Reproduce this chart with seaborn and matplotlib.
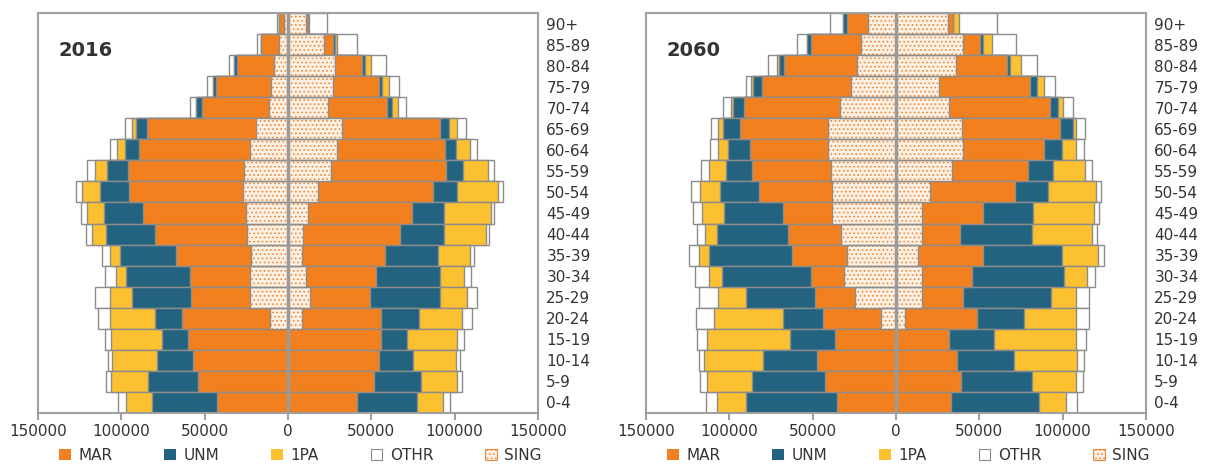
import numpy as np
import pandas as pd
import matplotlib
matplotlib.use("Agg")
import matplotlib.pyplot as plt
import seaborn as sns
from matplotlib.patches import Patch

AGES = ['90+', '85-89', '80-84', '75-79', '70-74', '65-69', '60-64', '55-59',
        '50-54', '45-49', '40-44', '35-39', '30-34', '25-29', '20-24', '15-19',
        '10-14', '5-9', '0-4']
SERIES = ['MAR', 'UNM', '1PA', 'OTHR', 'SING']
XTICKS = [-150000, -100000, -50000, 0, 50000, 100000, 150000]
XTICK_LABELS = ['150000', '100000', '50000', '0', '50000', '100000', '150000']

# ---- 2016, left side (men) ----
M16_SING = [2400, 5400, 8400, 10000, 11400, 19400, 22800, 26400, 26800, 25400, 24400, 22400, 22800, 22800, 10800, 0, 0, 0, 0]
M16_MAR = [3000, 11000, 22400, 33400, 40400, 65400, 66600, 69400, 68600, 61400, 55600, 45000, 36000, 35600, 52600, 60000, 56800, 54000, 42400]
M16_UNM = [0, 0, 1600, 1600, 3600, 6600, 8600, 12600, 17400, 23600, 29400, 33400, 38600, 35400, 16600, 15400, 22000, 29800, 39400]
M16_1PA = [0, 0, 0, 0, 0, 2400, 4400, 7400, 10600, 10000, 8000, 6000, 6000, 13000, 26800, 31000, 26600, 22200, 15200]
M16_OTHR = [1400, 2400, 3000, 3800, 3400, 4200, 4400, 4600, 4000, 4000, 4000, 4600, 6600, 9000, 7200, 3600, 2600, 3400, 5000]

# ---- 2016, right side (women) ----
F16_SING = [10500, 21500, 27900, 27100, 24100, 32100, 29500, 25500, 18100, 12100, 9100, 8500, 10500, 13100, 8500, 0, 0, 0, 0]
F16_MAR = [1500, 5600, 16600, 27400, 35400, 59000, 64400, 69000, 69000, 62000, 58000, 49600, 42000, 36000, 47000, 55900, 54500, 51500, 41100]
F16_UNM = [0, 800, 1400, 1600, 3000, 5400, 7000, 10400, 14400, 19400, 26400, 32000, 38400, 41800, 23000, 15600, 20400, 28400, 36400]
F16_1PA = [500, 1600, 3600, 4400, 3400, 5000, 8200, 15200, 24600, 28000, 25000, 19000, 14600, 16200, 26000, 30000, 25600, 21600, 15400]
F16_OTHR = [11000, 11600, 9000, 6000, 4600, 5400, 4400, 3400, 2800, 2000, 2000, 2400, 4400, 6400, 6000, 4000, 2600, 3000, 4200]

# ---- 2060, left side (men) ----
M60_SING = [16600, 21200, 23200, 27200, 33600, 40800, 40800, 38800, 38200, 38200, 33200, 29600, 31200, 24800, 9200, 0, 0, 0, 0]
M60_MAR = [13000, 30000, 44000, 53000, 57600, 52800, 46800, 47400, 44000, 29400, 31600, 33000, 19600, 24000, 34400, 36800, 47200, 42800, 35200]
M60_UNM = [2000, 2000, 3000, 5400, 6400, 10000, 13200, 16000, 23400, 35600, 42400, 49600, 53400, 41000, 24200, 26800, 32600, 43400, 55000]
M60_1PA = [0, 0, 1400, 1200, 1600, 3200, 6000, 10000, 12000, 13000, 7600, 6000, 8000, 17000, 41400, 50000, 35400, 27000, 17400]
M60_OTHR = [8000, 6400, 5200, 3400, 4400, 4400, 4800, 5000, 5200, 5400, 4800, 6000, 8400, 11400, 10600, 5600, 3000, 4400, 6600]

# ---- 2060, right side (women) ----
F60_SING = [31400, 40000, 36000, 26000, 32000, 39400, 40400, 33400, 20400, 15400, 15400, 13400, 15800, 15800, 5400, 0, 0, 0, 0]
F60_MAR = [2600, 10400, 30800, 54400, 60400, 59000, 48600, 45600, 51000, 36600, 23000, 38600, 29600, 24200, 43000, 32000, 36400, 39000, 32800]
F60_UNM = [0, 1600, 1600, 4000, 5000, 7600, 10400, 15000, 19600, 30000, 43000, 47400, 55400, 53000, 28600, 26800, 34400, 42800, 53000]
F60_1PA = [3800, 5400, 6400, 4400, 3000, 2000, 8600, 19400, 28800, 36800, 36400, 22000, 14000, 14800, 30800, 49200, 38000, 26000, 16200]
F60_OTHR = [22600, 14400, 9600, 6600, 6000, 5400, 4800, 4400, 3000, 3200, 2600, 3400, 4600, 8000, 8000, 5800, 4200, 4200, 6800]

C_MAR = '#F3801F'
C_UNM = '#23637F'
C_1PA = '#FCC131'
C_OTHR = '#FFFFFF'
C_SING = '#FDF0E2'
C_DOT = '#EC8A3C'
EDGE = '#8C8C8C'
TXT = '#333333'

sns.set_theme(style='white')
plt.rcParams['font.family'] = ['DejaVu Sans']
plt.rcParams['hatch.linewidth'] = 0.7


def draw_side(ax, sign, sing, mar, unm, pa, othr):
    comps = np.array([sing, mar, unm, pa, othr], dtype=float)
    cum = np.cumsum(comps, axis=0)
    colors = [C_SING, C_MAR, C_UNM, C_1PA, C_OTHR]
    for i in [4, 3, 2, 1]:
        df = pd.DataFrame({'age': AGES, 'val': sign * cum[i]})
        sns.barplot(data=df, x='val', y='age', order=AGES, orient='h',
                    color=colors[i], saturation=1, width=1, errorbar=None,
                    edgecolor=EDGE, linewidth=1, ax=ax)
    df = pd.DataFrame({'age': AGES, 'val': sign * cum[0]})
    sns.barplot(data=df, x='val', y='age', order=AGES, orient='h',
                color=C_SING, saturation=1, width=1, errorbar=None,
                edgecolor=C_DOT, linewidth=0, hatch='....', ax=ax)
    sns.barplot(data=df, x='val', y='age', order=AGES, orient='h',
                color=EDGE, saturation=1, width=1, errorbar=None, fill=False,
                linewidth=1, ax=ax)


fig = plt.figure(figsize=(12.05, 4.68), dpi=100)
axL = fig.add_axes([38 / 1205, 55 / 468, 500 / 1205, 400 / 468])
axR = fig.add_axes([646 / 1205, 55 / 468, 500 / 1205, 400 / 468])

panels = [
    (axL, '2016', (M16_SING, M16_MAR, M16_UNM, M16_1PA, M16_OTHR),
     (F16_SING, F16_MAR, F16_UNM, F16_1PA, F16_OTHR)),
    (axR, '2060', (M60_SING, M60_MAR, M60_UNM, M60_1PA, M60_OTHR),
     (F60_SING, F60_MAR, F60_UNM, F60_1PA, F60_OTHR)),
]

for ax, title, men, women in panels:
    draw_side(ax, -1, *men)
    draw_side(ax, 1, *women)
    ax.axvline(0, color='#9A9A9A', lw=2.5, zorder=6)
    ax.set_xlim(-150000, 150000)
    ax.set_ylim(len(AGES) - 0.5, -0.5)
    ax.set_xlabel('')
    ax.set_ylabel('')
    ax.set_xticks(XTICKS)
    ax.set_xticklabels(XTICK_LABELS)
    ax.yaxis.tick_right()
    ax.tick_params(axis='y', length=0, pad=6, labelsize=11, labelcolor=TXT)
    ax.tick_params(axis='x', direction='out', length=5, width=1.5, color='#A0A0A0',
                   labelsize=11, labelcolor=TXT, pad=3, bottom=True)
    for s in ax.spines.values():
        s.set_visible(True)
        s.set_color('#A0A0A0')
        s.set_linewidth(1.5)
    ax.text(0.04, 0.905, title, transform=ax.transAxes, fontsize=14,
            fontweight='bold', color=TXT, va='center', ha='left', zorder=10)
    handles = [Patch(facecolor=C_MAR, edgecolor='none'),
               Patch(facecolor=C_UNM, edgecolor='none'),
               Patch(facecolor=C_1PA, edgecolor='none'),
               Patch(facecolor=C_OTHR, edgecolor=EDGE, linewidth=0.8),
               Patch(facecolor=C_SING, edgecolor=C_DOT, hatch='....', linewidth=0.8)]
    ax.legend(handles, SERIES, loc='center', bbox_to_anchor=(0.525, -0.105), ncol=5,
              frameon=False, fontsize=11, handlelength=0.75, handleheight=0.75,
              handletextpad=0.5, columnspacing=3.4, labelcolor=TXT)

fig.savefig('out.png', dpi=100)
